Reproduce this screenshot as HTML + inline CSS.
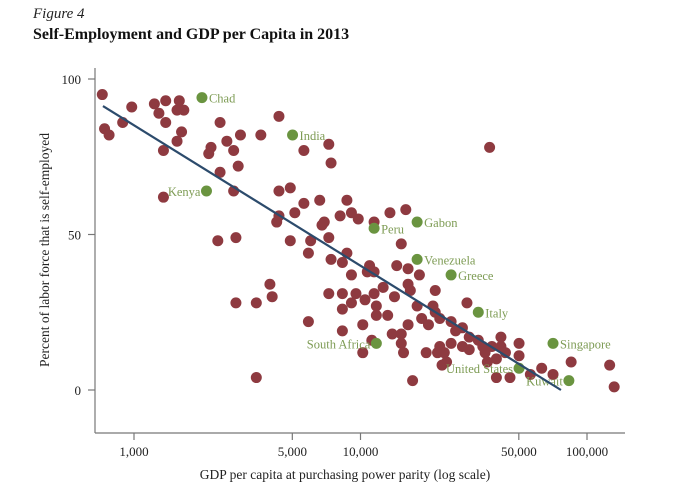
<!DOCTYPE html>
<html><head><meta charset="utf-8"><style>
body{margin:0;background:#fff;width:680px;height:482px;overflow:hidden;font-family:"Liberation Serif",serif}
</style></head><body>
<svg width="680" height="482" xmlns="http://www.w3.org/2000/svg">
<text x="33" y="18" font-style="italic" font-size="15" fill="#222">Figure 4</text>
<text x="33" y="39" font-weight="bold" font-size="16" fill="#111">Self-Employment and GDP per Capita in 2013</text>
<g id="plot"></g>
</svg>
<script>
const logGdp=[2.86,2.99,2.87,2.89,2.95,3.09,3.14,3.11,3.14,3.20,3.19,3.22,3.21,3.19,3.13,3.13,3.38,3.41,3.34,3.33,3.44,3.46,3.47,3.56,3.38,3.44,3.64,3.75,3.86,3.87,3.64,3.69,3.75,3.82,3.94,3.91,3.96,3.99,3.64,3.63,3.71,3.84,3.83,4.06,3.37,3.45,3.69,3.78,3.86,3.77,3.94,3.45,3.54,3.60,3.61,3.77,3.54,4.13,4.20,3.87,3.92,3.96,4.04,4.03,4.06,4.18,4.16,4.21,4.26,4.10,4.21,4.22,4.33,3.86,3.92,3.98,4.02,4.06,4.15,3.92,3.96,4.07,4.07,4.12,4.25,4.32,4.33,4.47,3.92,4.01,4.05,4.01,4.14,4.18,4.18,4.19,4.21,4.27,4.30,4.35,4.40,4.45,4.42,4.40,4.45,4.48,4.48,4.52,4.54,4.55,4.58,4.62,4.62,4.60,4.56,4.64,4.35,4.29,4.34,4.37,4.36,4.38,4.60,4.66,4.70,4.70,4.75,4.80,4.85,4.93,5.10,5.12,4.23,4.57];
const selfEmp=[95,91,84,82,86,92,93,89,86,93,90,90,83,80,77,62,86,80,78,76,77,72,82,82,70,64,88,77,79,73,64,65,60,61,61,56,57,55,56,54,57,54,53,54,48,49,48,48,49,44,44,28,28,34,30,22,4,57,58,42,41,37,40,38,38,47,40,39,37,33,34,32,32,31,31,31,29,31,30,26,28,27,24,24,27,27,25,28,19,21,16,12,18,18,15,12,21,23,21,23,22,20,19,15,14,13,17,16,14,12,14,14,17,10,9,12,14,12,12,12,8,9,4,4,15,11,5,7,5,9,8,1,3,78];
const hlNames=["Chad","India","Kenya","Gabon","Peru","Venezuela","Greece","Italy","South Africa","Singapore","United States","Kuwait"];
const hlLogGdp=[3.30,3.70,3.32,4.25,4.06,4.25,4.40,4.52,4.07,4.85,4.70,4.92];
const hlSelfEmp=[94,82,64,54,52,42,37,25,15,15,7,3];
const hlLeft=[false,false,true,false,false,false,false,false,true,false,true,true];
const xTicks=[1000,5000,10000,50000,100000];
const xTickLabels=["1,000","5,000","10,000","50,000","100,000"];
const yTicks=[0,50,100];
const fitStart=[2.863,91.3], fitEnd=[4.885,0];

const NS="http://www.w3.org/2000/svg";
const g=document.getElementById('plot');
const X=l=>134+(l-3)*226.5;
const Y=v=>390-v*3.11;
function mk(t,a){const e=document.createElementNS(NS,t);for(const k in a)e.setAttribute(k,a[k]);g.appendChild(e);return e;}
let e;
e=mk('line',{x1:95,y1:68,x2:95,y2:433,stroke:'#777','stroke-width':1.2});


e=mk('line',{x1:95,y1:433,x2:625,y2:433,stroke:'#777','stroke-width':1.2});


yTicks.forEach(v=>{
 e=mk('line',{x1:88,y1:Y(v),x2:95,y2:Y(v),stroke:'#777','stroke-width':1.2});
 
 
 e=mk('text',{x:81,y:Y(v)+5,'text-anchor':'end','font-size':13,fill:'#222'});e.textContent=v;
 
 
});
xTicks.forEach((v,i)=>{
 const x=X(Math.log10(v));
 e=mk('line',{x1:x,y1:433,x2:x,y2:440,stroke:'#777','stroke-width':1.2});
 
 
 e=mk('text',{x:x,y:456,'text-anchor':'middle','font-size':13,fill:'#222'});e.textContent=xTickLabels[i];
 
 
});
e=mk('text',{x:345,y:479,'text-anchor':'middle','font-size':13.5,fill:'#222'});e.textContent="GDP per capita at purchasing power parity (log scale)";


e=mk('text',{x:0,y:0,'text-anchor':'middle','font-size':13.5,fill:'#222',transform:'translate(49,250) rotate(-90)'});e.textContent="Percent of labor force that is self-employed";


logGdp.forEach((l,i)=>{
 e=mk('circle',{cx:X(l),cy:Y(selfEmp[i]),r:5.5,fill:'#8E3A40'});
 
 
});
hlNames.forEach((n,i)=>{
 const cx=X(hlLogGdp[i]),cy=Y(hlSelfEmp[i]);
 e=mk('circle',{cx:cx,cy:cy,r:5.5,fill:'#6A9440'});
 
 
 e=mk('text',{x:hlLeft[i]?cx-6:cx+7,y:cy+5,'text-anchor':hlLeft[i]?'end':'start','font-size':12.5,fill:'#7E9C55'});e.textContent=n;
 
 
});
e=mk('line',{x1:X(fitStart[0]),y1:Y(fitStart[1]),x2:X(fitEnd[0]),y2:Y(fitEnd[1]),stroke:'#2C4B6C','stroke-width':2.2});


</script>
</body></html>
